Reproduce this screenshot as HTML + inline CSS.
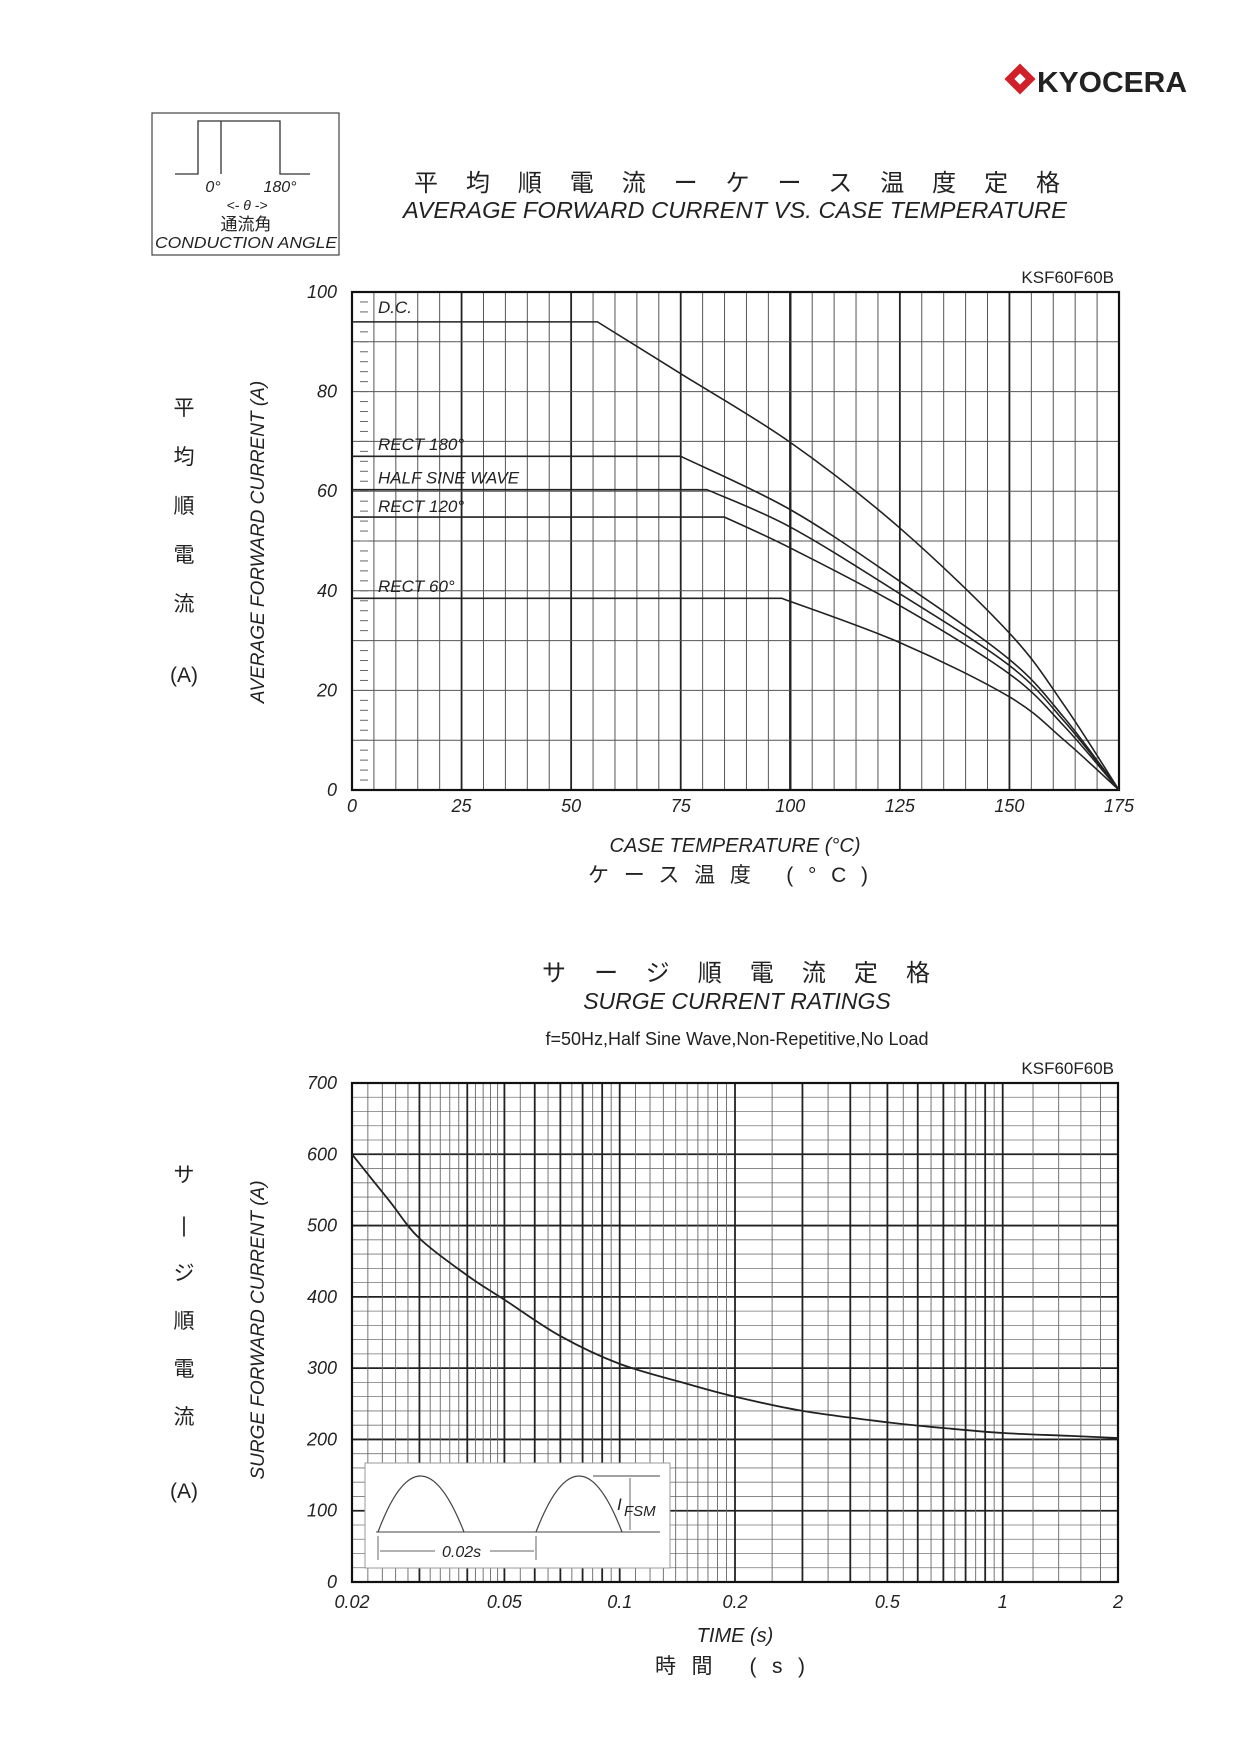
<!DOCTYPE html>
<html><head><meta charset="utf-8"><style>
html,body{margin:0;padding:0;background:#fff;}
svg{display:block;}
text{font-family:"Liberation Sans","Noto Sans CJK JP",sans-serif;fill:#222;}
.it{font-style:italic;}
</style></head><body>
<svg id="page" width="1240" height="1754" viewBox="0 0 1240 1754" xmlns="http://www.w3.org/2000/svg">
<g>
  <g transform="translate(1020,79) rotate(45)"><rect x="-11" y="-11" width="22" height="22" fill="#d0202a"/><rect x="-4" y="-4" width="8" height="8" fill="#fff"/></g>
  <text x="1037" y="92" font-size="29" font-weight="bold" fill="#111" textLength="150" lengthAdjust="spacingAndGlyphs">KYOCERA</text>
</g>
<g>
  <rect x="152" y="113" width="187" height="142" fill="none" stroke="#444" stroke-width="1.2"/>
  <polyline points="175,174 198,174 198,121 221,121 221,174 221,121 280,121 280,174 310,174" fill="none" stroke="#333" stroke-width="1.3"/>
  <text x="213" y="192" class="it" font-size="16" text-anchor="middle">0°</text>
  <text x="280" y="192" class="it" font-size="16" text-anchor="middle">180°</text>
  <text x="247" y="210" class="it" font-size="14" text-anchor="middle" fill="#666">&lt;- θ -&gt;</text>
  <text x="246" y="230" font-size="17" text-anchor="middle">通流角</text>
  <text x="246" y="248" class="it" font-size="16" text-anchor="middle" textLength="182" lengthAdjust="spacingAndGlyphs">CONDUCTION ANGLE</text>
</g>
<text x="414" y="191" font-size="24" textLength="646" lengthAdjust="spacing">平均順電流ーケース温度定格</text>
<text x="403" y="218" class="it" font-size="23" textLength="664" lengthAdjust="spacingAndGlyphs">AVERAGE FORWARD CURRENT VS. CASE TEMPERATURE</text>
<text x="1114" y="283" font-size="17" text-anchor="end">KSF60F60B</text>
<g id="c1"></g>
<text transform="translate(264,542) rotate(-90)" class="it" font-size="19" text-anchor="middle">AVERAGE FORWARD CURRENT (A)</text>
<g font-size="21" text-anchor="middle">
<text x="184" y="415">平</text><text x="184" y="464">均</text><text x="184" y="513">順</text><text x="184" y="562">電</text><text x="184" y="611">流</text><text x="184" y="682">(A)</text></g>
<text x="735" y="852" class="it" font-size="20" text-anchor="middle">CASE TEMPERATURE (°C)</text>
<text x="588" y="882" font-size="21" textLength="280" lengthAdjust="spacing">ケース温度 (°C)</text>

<text x="542" y="981" font-size="24" textLength="388" lengthAdjust="spacing">サージ順電流定格</text>
<text x="737" y="1009" class="it" font-size="23" text-anchor="middle">SURGE CURRENT RATINGS</text>
<text x="737" y="1045" font-size="18" text-anchor="middle">f=50Hz,Half Sine Wave,Non-Repetitive,No Load</text>
<text x="1114" y="1074" font-size="17" text-anchor="end">KSF60F60B</text>
<g id="c2"></g>
<text transform="translate(264,1330) rotate(-90)" class="it" font-size="19" text-anchor="middle">SURGE FORWARD CURRENT (A)</text>
<g font-size="21" text-anchor="middle">
<text x="184" y="1182">サ</text><text x="184" y="1232">|</text><text x="184" y="1280">ジ</text><text x="184" y="1328">順</text><text x="184" y="1376">電</text><text x="184" y="1424">流</text><text x="184" y="1498">(A)</text></g>
<text x="735" y="1642" class="it" font-size="20" text-anchor="middle">TIME (s)</text>
<text x="655" y="1673" font-size="21" textLength="150" lengthAdjust="spacing">時間 (s)</text>
</svg>
<script>
// ---- Chart 1 data ----
var c1XTicks = ["0","25","50","75","100","125","150","175"];
var c1YTicks = ["0","20","40","60","80","100"];
var dcT = [56, 75, 100, 125, 150, 162.5, 175];
var dcI = [94, 83.6, 69.8, 52.6, 31.5, 17, 0];
var r180T = [75, 100, 125, 150, 162.5, 175];
var r180I = [67, 56.3, 41.9, 26.2, 14.5, 0];
var sineT = [81, 100, 125, 150, 162.5, 175];
var sineI = [60.3, 52.8, 39.4, 25, 13.8, 0];
var r120T = [85, 100, 125, 150, 162.5, 175];
var r120I = [54.8, 48.6, 37, 23.3, 12.8, 0];
var r60T = [98, 125, 150, 162.5, 175];
var r60I = [38.5, 29.6, 18.7, 10, 0];
var c1Labels = ["D.C.", "RECT 180°", "HALF SINE WAVE", "RECT 120°", "RECT 60°"];
var c1LabelVals = [97, 69.5, 62.8, 57, 41];
// ---- Chart 2 data ----
var c2XTicks = [0.02, 0.05, 0.1, 0.2, 0.5, 1, 2];
var c2XTickLabels = ["0.02","0.05","0.1","0.2","0.5","1","2"];
var c2YTicks = [0,100,200,300,400,500,600,700];
var surgeT = [0.02, 0.025, 0.03, 0.04, 0.05, 0.07, 0.1, 0.15, 0.2, 0.3, 0.5, 0.7, 1, 1.5, 2];
var surgeI = [600, 535, 482, 430, 396, 345, 306, 278, 260, 240, 224, 216, 209, 205, 202];

var NS = "http://www.w3.org/2000/svg";
function mk(parent, tag, attrs){var e=document.createElementNS(NS,tag);for(var k in attrs)e.setAttribute(k,attrs[k]);parent.appendChild(e);return e;}
function smooth(P){
  var d='M'+P[0][0]+','+P[0][1];
  for(var i=0;i<P.length-1;i++){
    var p0=P[i-1]||P[i],p1=P[i],p2=P[i+1],p3=P[i+2]||P[i+1];
    var c1x=p1[0]+(p2[0]-p0[0])/6,c1y=p1[1]+(p2[1]-p0[1])/6;
    var c2x=p2[0]-(p3[0]-p1[0])/6,c2y=p2[1]-(p3[1]-p1[1])/6;
    d+=' C'+c1x+','+c1y+' '+c2x+','+c2y+' '+p2[0]+','+p2[1];
  }
  return d;
}

// chart1 axes
var L1=352,R1=1119,T1=292,B1=790;
function x1(v){return L1+(v/175)*(R1-L1);}
function y1(v){return B1-(v/100)*(B1-T1);}
var g1=document.getElementById('c1');
for(var t=5;t<175;t+=5){
  var major=(t%25===0);
  var ln=mk(g1,'line',{x1:x1(t),x2:x1(t),y1:T1,y2:B1,stroke:major?'#222':'#555','stroke-width':major?(t===100?2.4:1.8):1});
  
  
}
for(var v=10;v<100;v+=10){
  var ln=mk(g1,'line',{x1:L1,x2:R1,y1:y1(v),y2:y1(v),stroke:'#555','stroke-width':1});
  
  
}
for(var v=2;v<100;v+=2){
  var tk=mk(g1,'line',{x1:L1+8,x2:L1+16,y1:y1(v),y2:y1(v),stroke:'#666','stroke-width':1});
  
  
}
var fr=mk(g1,'rect',{x:L1,y:T1,width:R1-L1,height:B1-T1,fill:'none',stroke:'#111','stroke-width':2.2});


c1XTicks.forEach(function(s){
  var tx=mk(g1,'text',{x:x1(+s),y:812,'font-size':18,'text-anchor':'middle','class':'it'});tx.textContent=s;
  
  
});
c1YTicks.forEach(function(s){
  var tx=mk(g1,'text',{x:337,y:y1(+s)+6,'font-size':18,'text-anchor':'end','class':'it'});tx.textContent=s;
  
  
});
var series1=[[dcT,dcI,'dc'],[r180T,r180I,'rect-180'],[sineT,sineI,'half-sine'],[r120T,r120I,'rect-120'],[r60T,r60I,'rect-60']];
series1.forEach(function(s,i){
  var P=s[0].map(function(t,j){return [x1(t),y1(s[1][j])];});
  var d='M'+x1(0)+','+y1(s[1][0])+' L'+smooth(P).slice(1);
  var pl=mk(g1,'path',{d:d,fill:'none',stroke:'#222','stroke-width':1.6,'stroke-linejoin':'round'});
  
  
  var lb=mk(g1,'text',{x:378,y:y1(c1LabelVals[i])+6,'font-size':17,'class':'it'});lb.textContent=c1Labels[i];
  
  
});

// chart2 axes
var L2=352,R2=1118,T2=1083,B2=1582;
function x2(v){return L2+Math.log10(v/0.02)/2*(R2-L2);}
function y2(v){return B2-(v/700)*(B2-T2);}
var g2=document.getElementById('c2');
function vline(v,major){
  var ln=mk(g2,'line',{x1:x2(v),x2:x2(v),y1:T2,y2:B2,stroke:major?'#222':'#666','stroke-width':major?1.8:0.9});
  
  
}
for(var v=0;v<700;v+=20){ if(v===0)continue;
  var major=(v%100===0);
  var ln=mk(g2,'line',{x1:L2,x2:R2,y1:y2(v),y2:y2(v),stroke:major?'#222':'#777','stroke-width':major?1.8:0.8});
  
  
}
var k;
for(k=22;k<50;k+=2){ vline(k/1000,k%10===0); }
for(k=50;k<100;k+=5){ vline(k/1000,k%10===0); }
for(k=10;k<20;k++){ vline(k/100,k===10); }
for(k=20;k<50;k+=5){ vline(k/100,k%10===0); }
for(k=50;k<100;k+=5){ vline(k/100,k%10===0); }
for(k=10;k<20;k+=2){ vline(k/10,k===10); }
var fr2=mk(g2,'rect',{x:L2,y:T2,width:R2-L2,height:B2-T2,fill:'none',stroke:'#111','stroke-width':2.2});


c2XTicks.forEach(function(v,i){
  var tx=mk(g2,'text',{x:x2(v),y:1608,'font-size':18,'text-anchor':'middle','class':'it'});tx.textContent=c2XTickLabels[i];
  
  
});
c2YTicks.forEach(function(v){
  var tx=mk(g2,'text',{x:337,y:y2(v)+6,'font-size':18,'text-anchor':'end','class':'it'});tx.textContent=String(v);
  
  
});
var SP=surgeT.map(function(t,j){return [x2(t),y2(surgeI[j])];});
var sl=mk(g2,'path',{d:smooth(SP),fill:'none',stroke:'#222','stroke-width':1.8});



// inset
var ins=mk(g2,'g',{});


mk(ins,'rect',{x:365,y:1463,width:305,height:105,fill:'#fff',stroke:'#999','stroke-width':1});
mk(ins,'line',{x1:376,x2:660,y1:1532,y2:1532,stroke:'#444','stroke-width':1});
mk(ins,'path',{d:'M378,1532 Q420,1420 464,1532',fill:'none',stroke:'#444','stroke-width':1.2});
mk(ins,'path',{d:'M536,1532 Q579,1420 622,1532',fill:'none',stroke:'#444','stroke-width':1.2});
mk(ins,'line',{x1:593,x2:660,y1:1476,y2:1476,stroke:'#444','stroke-width':1});
mk(ins,'line',{x1:630,x2:630,y1:1478,y2:1530,stroke:'#666','stroke-width':1});
mk(ins,'line',{x1:378,x2:378,y1:1536,y2:1560,stroke:'#666','stroke-width':1});
mk(ins,'line',{x1:536,x2:536,y1:1536,y2:1560,stroke:'#666','stroke-width':1});
mk(ins,'line',{x1:380,x2:435,y1:1551,y2:1551,stroke:'#666','stroke-width':1});
mk(ins,'line',{x1:490,x2:534,y1:1551,y2:1551,stroke:'#666','stroke-width':1});
var it1=mk(ins,'text',{x:442,y:1557,'font-size':16,'class':'it'});it1.textContent='0.02s';
var it2=mk(ins,'text',{x:617,y:1510,'font-size':17,'class':'it'});it2.textContent='I';
var it3=mk(ins,'text',{x:624,y:1516,'font-size':15,'class':'it'});it3.textContent='FSM';
</script>
</body></html>
